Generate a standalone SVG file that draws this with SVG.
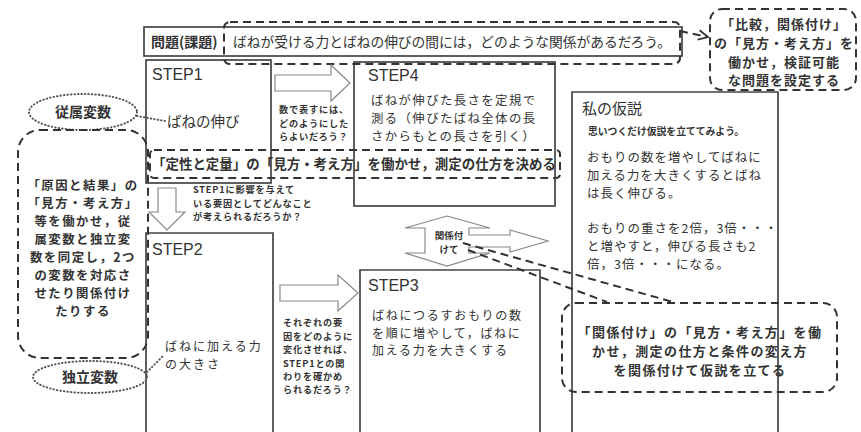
<svg xmlns="http://www.w3.org/2000/svg" width="861" height="432" viewBox="0 0 861 432">
<style>
.t{font-family:"Noto Sans CJK JP","Noto Sans",sans-serif;fill:#333;}
.b{font-weight:bold;}
.lat{font-family:"Liberation Sans",Arial,sans-serif;fill:#333;}
.box{fill:none;stroke:#444;stroke-width:1.7;}
.dash{fill:none;stroke:#333;stroke-width:2;stroke-dasharray:8 5;}
.dot{fill:none;stroke:#555;stroke-width:2;stroke-dasharray:0.5 3;stroke-linecap:round;}
.arr{fill:#fff;stroke:#888;stroke-width:1.2;}
.c{text-anchor:middle;}
.sm{font-size:9.2px;letter-spacing:0.8px;font-weight:bold;}
</style>
<defs>
<marker id="ah" viewBox="0 0 10 10" refX="9" refY="5" markerWidth="6" markerHeight="6" orient="auto"><path d="M1,1 L9,5 L1,9" fill="none" stroke="#333" stroke-width="1.5"/></marker>
</defs>
<rect width="861" height="432" fill="#fff"/>

<g id="problem">
<rect class="box" x="144" y="27" width="538" height="29"/>
<text class="t b" x="151" y="47" font-size="14">問題(課題)</text>
<text class="t" x="233" y="47" font-size="14" textLength="438" lengthAdjust="spacingAndGlyphs">ばねが受ける力とばねの伸びの間には，どのような関係があるだろう。</text>
</g>

<g id="step1">
<rect class="box" x="146" y="60" width="125" height="123"/>
<text class="lat" x="152" y="80" font-size="16">STEP1</text>
<text class="t" x="167" y="127" font-size="14.5">ばねの伸び</text>
</g>

<g id="step4">
<rect class="box" x="354" y="62" width="201" height="144"/>
<text class="lat" x="368" y="81" font-size="16">STEP4</text>
<g class="t" font-size="12.4" letter-spacing="1.4">
<text x="371" y="104.5">ばねが伸びた長さを定規で</text>
<text x="371" y="122.5">測る（伸びたばね全体の長</text>
<text x="371" y="140.5">さからもとの長さを引く）</text>
</g>
</g>

<g id="step2">
<path class="box" d="M146,440 V233 H273 V440"/>
<text class="lat" x="152" y="255" font-size="16">STEP2</text>
<g class="t" font-size="12" letter-spacing="2">
<text x="165" y="351.3">ばねに加える力</text>
<text x="165" y="368.8">の大きさ</text>
</g>
</g>

<g id="step3">
<path class="box" d="M360,440 V270 H540 V440"/>
<text class="lat" x="368" y="291" font-size="16">STEP3</text>
<g class="t" font-size="12" letter-spacing="1.7">
<text x="372" y="320.3">ばねにつるすおもりの数</text>
<text x="372" y="337.8">を順に増やして，ばねに</text>
<text x="372" y="355.3">加える力を大きくする</text>
</g>
</g>

<g id="hypothesis">
<path class="box" d="M572,440 V92 H778 V440"/>
<text class="t" x="582" y="114" font-size="15">私の仮説</text>
<text class="t b" x="588" y="135" font-size="9.8">思いつくだけ仮説を立ててみよう。</text>
<g class="t" font-size="12.4" letter-spacing="1.1">
<text x="587" y="161.5">おもりの数を増やしてばねに</text>
<text x="587" y="179.5">加える力を大きくするとばね</text>
<text x="587" y="197.5">は長く伸びる。</text>
<text x="587" y="232.5">おもりの重さを2倍，3倍・・・</text>
<text x="587" y="250.5">と増やすと，伸びる長さも2</text>
<text x="587" y="268.5">倍，3倍・・・になる。</text>
</g>
</g>

<g id="dependent">
<ellipse class="dot" cx="83" cy="112" rx="54" ry="18"/>
<text class="t b c" x="83" y="117" font-size="14">従属変数</text>
</g>

<g id="independent">
<ellipse class="dot" cx="90" cy="377" rx="57" ry="16"/>
<text class="t b c" x="90" y="382" font-size="14">独立変数</text>
</g>

<g id="note-cause">
<rect class="dash" x="18" y="130" width="130" height="228" rx="22"/>
<g class="t b c" font-size="12.4" letter-spacing="1.5">
<text x="83" y="189.5">「原因と結果」の</text>
<text x="83" y="207.5">「見方・考え方」</text>
<text x="83" y="225.5">等を働かせ，従</text>
<text x="83" y="243.5">属変数と独立変</text>
<text x="83" y="261.5">数を同定し，2つ</text>
<text x="83" y="279.5">の変数を対応さ</text>
<text x="83" y="297.5">せたり関係付け</text>
<text x="83" y="315.5">たりする</text>
</g>
</g>

<g id="note-question">
<rect class="dash" x="224" y="22" width="456" height="42" rx="6"/>
</g>

<g id="note-compare">
<rect class="dash" x="710" y="9" width="146" height="81" rx="12"/>
<g class="t b c" font-size="13" letter-spacing="1">
<text x="784" y="28.7">「比較，関係付け」</text>
<text x="784" y="47.7">の「見方・考え方」を</text>
<text x="784" y="66.7">働かせ，検証可能</text>
<text x="784" y="85.2">な問題を設定する</text>
</g>
</g>

<g id="note-measure">
<rect class="dash" x="150" y="150" width="410" height="28" rx="4"/>
<text class="t b" x="152" y="169" font-size="14" textLength="404" lengthAdjust="spacingAndGlyphs">「定性と定量」の「見方・考え方」を働かせ，測定の仕方を決める</text>
</g>

<g id="note-relate">
<rect class="dash" x="562" y="303" width="275" height="89" rx="14"/>
<g class="t b c" font-size="13" letter-spacing="1.4">
<text x="700" y="336.7">「関係付け」の「見方・考え方」を働</text>
<text x="700" y="355.7">かせ，測定の仕方と条件の変え方</text>
<text x="700" y="374.7">を関係付けて仮説を立てる</text>
</g>
</g>

<g id="connectors">
<polygon class="arr" points="275,75 331,75 331,65 350,83 331,101 331,91 275,91"/>
<polygon class="arr" points="158,188 176,188 176,212 185,212 167,230 149,212 158,212"/>
<polygon class="arr" points="280,285 338,285 338,275 358,293 338,311 338,301 280,301"/>
<polygon class="arr" points="447,216 490,228 469,228 469,235 510,235 510,230 548,241 510,252 510,247 469,247 469,253 490,253 447,266 405,253 425,253 425,228 405,228"/>
<text class="t b c" x="449" y="239" font-size="9.5">関係付</text>
<text class="t b c" x="449" y="253" font-size="9.5">けて</text>
<g class="t sm">
<text x="279" y="113.3">数で表すには、</text>
<text x="279" y="126.7">どのようにした</text>
<text x="279" y="140.1">らよいだろう？</text>
<text x="193" y="193.3">STEP1に影響を与えて</text>
<text x="193" y="206.7">いる要因としてどんなこと</text>
<text x="193" y="220.1">が考えられるだろうか？</text>
<text x="283" y="326.3">それぞれの要</text>
<text x="283" y="339.7">因をどのように</text>
<text x="283" y="353.1">変化させれば、</text>
<text x="283" y="366.5">STEP1との関</text>
<text x="283" y="379.9">わりを確かめ</text>
<text x="283" y="393.3">られるだろう？</text>
</g>
<path class="dot" d="M137,116 L165,121"/>
<path class="dot" d="M147,372 L163,356"/>
<path class="dash" d="M680,31 L708,37" marker-end="url(#ah)"/>
<path class="dash" d="M463,243 L673,302"/>
<path class="dash" d="M468,250 L607,302"/>
</g>
</svg>
